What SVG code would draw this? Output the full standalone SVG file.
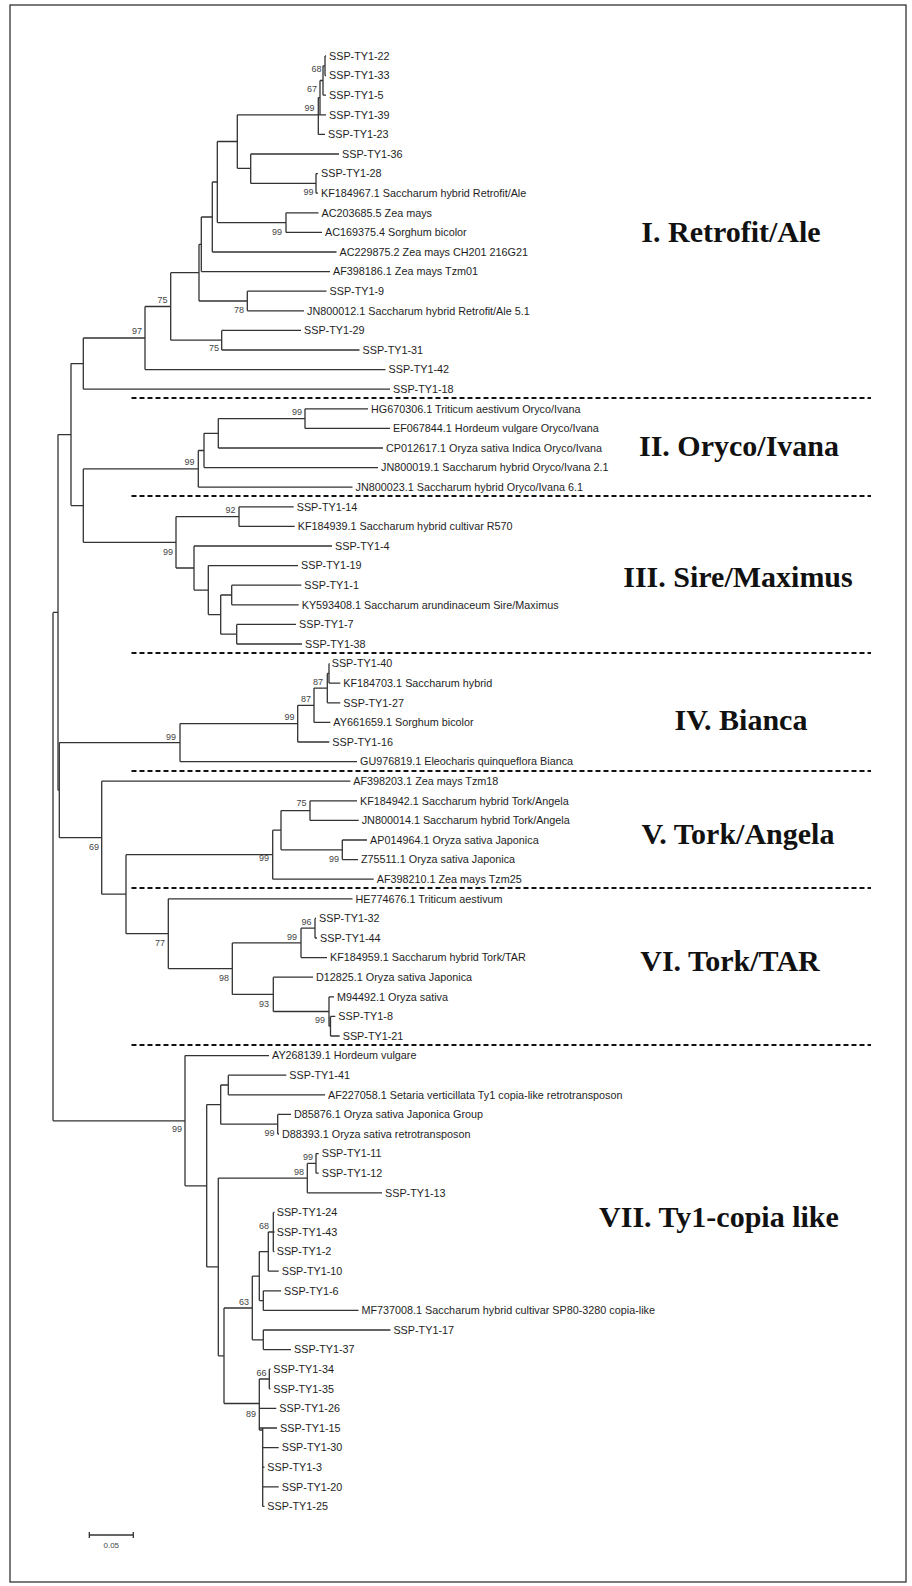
<svg xmlns="http://www.w3.org/2000/svg" width="912" height="1586" viewBox="0 0 912 1586">
<style>
.br{fill:none;stroke:#333;stroke-width:1.3}
.sep{fill:none;stroke:#111;stroke-width:2;stroke-dasharray:5 3}
.lf{font-family:"Liberation Sans",Arial,sans-serif;font-size:10.8px;fill:#1e1e1e}
.bs{font-family:"Liberation Sans",Arial,sans-serif;font-size:9px;fill:#444;text-anchor:end}
.cl{font-family:"Liberation Serif","Times New Roman",serif;font-size:30px;font-weight:bold;fill:#111;text-anchor:middle}
</style>
<rect x="0" y="0" width="912" height="1586" fill="#fff"/>
<rect x="10" y="5" width="896" height="1577" fill="none" stroke="#222" stroke-width="1.2"/>
<g id="separators">
<path class="sep" d="M131.5 398H871 M131.5 496H871 M131.5 653H871 M131.5 771H871 M131.5 888H871 M131.5 1045H871"/>
</g>
<g id="connectors">
<path class="br" d="M325 56V75.6 M325 56H326 M325 75.6H326 M323 65.8V95.2 M323 65.8H325 M323 95.2H326 M320 80.5V114.8 M320 80.5H323 M318.3 97.6V134.4 M318.3 97.6H320 M318.3 134.4H325"/>
<path class="br" d="M237.3 114.8V168.3 M237.3 114.8H326 M237.3 168.3H250.7 M250.7 154V183.4 M250.7 154H339 M250.7 183.4H316 M316 173.6V193.2 M316 173.6H318 M316 193.2H318"/>
<path class="br" d="M217.3 141.5V222.6 M217.3 141.5H237.3 M217.3 222.6H286 M286 212.8V232.4 M286 212.8H318.5 M286 232.4H322 M212.3 182V252 M212.3 182H217.3 M212.3 252H336.5 M201.3 217V271.6 M201.3 217H212.3 M201.3 271.6H330"/>
<path class="br" d="M199 244.3V301 M199 244.3H201.3 M199 301H247.3 M247.3 291.2V310.8 M247.3 291.2H326.5 M247.3 310.8H304 M170.7 272.7V340.2 M170.7 272.7H199 M170.7 340.2H221.7 M221.7 330.4V350 M221.7 330.4H301 M221.7 350H359.5"/>
<path class="br" d="M145 306.5V369.6 M145 306.5H170.7 M145 369.6H385.5 M83.3 338V389.2 M83.3 338H145 M83.3 389.2H390 M71 363.6V505.6 M71 363.6H83.3 M71 505.6H83.3"/>
<path class="br" d="M305 408.8V428.4 M305 408.8H368 M305 428.4H390 M218.3 418.6V448 M218.3 418.6H305 M218.3 448H383 M204 433.3V467.6 M204 433.3H218.3 M204 467.6H378 M198.3 450.5V487.2 M198.3 450.5H204 M198.3 487.2H352.5 M83.3 468.9V542.3 M83.3 468.9H198.3 M83.3 542.3H176"/>
<path class="br" d="M176 516.6V568 M176 516.6H239 M176 568H194 M239 506.8V526.4 M239 506.8H293.7 M239 526.4H294.7 M194 546V590.1 M194 546H332 M194 590.1H208.3 M208.3 565.6V614.6 M208.3 565.6H298 M208.3 614.6H220.7 M220.7 595V634.2 M220.7 595H231.7 M220.7 634.2H236.7 M231.7 585.2V604.8 M231.7 585.2H301.3 M231.7 604.8H298.7 M236.7 624.4V644 M236.7 624.4H296 M236.7 644H302"/>
<path class="br" d="M329 663.6V683.2 M329 663.6H329.5 M329 683.2H340.3 M327.3 673.4V702.8 M327.3 673.4H329 M327.3 702.8H340.3 M314 688.1V722.4 M314 688.1H327.3 M314 722.4H330.3 M297.7 705.3V742 M297.7 705.3H314 M297.7 742H329.3 M180 723.6V761.6 M180 723.6H297.7 M180 761.6H357 M59.3 742.6V837.7 M59.3 742.6H180 M59.3 837.7H101.7"/>
<path class="br" d="M101.7 781.2V894.2 M101.7 781.2H350.3 M101.7 894.2H126 M126 854.7V933.7 M126 854.7H272.7 M126 933.7H168.3 M272.7 830.2V879.2 M272.7 830.2H281 M272.7 879.2H373.7 M281 810.6V849.8 M281 810.6H310 M281 849.8H342.3 M310 800.8V820.4 M310 800.8H357 M310 820.4H358.7 M342.3 840V859.6 M342.3 840H367 M342.3 859.6H358"/>
<path class="br" d="M168.3 898.8V968.6 M168.3 898.8H352.5 M168.3 968.6H232.3 M232.3 942.9V994.4 M232.3 942.9H301 M232.3 994.4H273.3 M301 928.2V957.6 M301 928.2H315 M301 957.6H327 M315 918.4V938 M315 918.4H316 M315 938H317 M273.3 977.2V1011.5 M273.3 977.2H313 M273.3 1011.5H329 M329 996.8V1026.2 M329 996.8H334 M329 1026.2H330.5 M330.5 1016.4V1036 M330.5 1016.4H335.3 M330.5 1036H339.7"/>
<path class="br" d="M58 434.6V790.2 M58 434.6H71 M58 790.2H59.3 M53 612.4V1120.8 M53 612.4H58 M53 1120.8H185"/>
<path class="br" d="M185 1055.6V1185.8 M185 1055.6H269 M185 1185.8H206.7 M206.7 1104.6V1266.9 M206.7 1104.6H220.7 M206.7 1266.9H218.3 M220.7 1085V1124.2 M220.7 1085H228.3 M220.7 1124.2H277.7 M228.3 1075.2V1094.8 M228.3 1075.2H286.3 M228.3 1094.8H325 M277.7 1114.4V1134 M277.7 1114.4H291 M277.7 1134H279"/>
<path class="br" d="M218.3 1178.1V1355.8 M218.3 1178.1H307.3 M218.3 1355.8H224 M307.3 1163.4V1192.8 M307.3 1163.4H316 M307.3 1192.8H382 M316 1153.6V1173.2 M316 1153.6H318.7 M316 1173.2H318.7"/>
<path class="br" d="M224 1308V1403.5 M224 1308H252.3 M224 1403.5H259.3 M252.3 1276.1V1339.8 M252.3 1276.1H259.3 M252.3 1339.8H263.3 M259.3 1251.6V1300.6 M259.3 1251.6H268.3 M259.3 1300.6H263.3 M268.3 1232V1271.2 M268.3 1232H273.3 M268.3 1271.2H278.7 M273.3 1212.4V1251.6 M273.3 1212.4H274.5 M273.3 1232H274.5 M273.3 1251.6H274.5 M263.3 1290.8V1310.4 M263.3 1290.8H281 M263.3 1310.4H358.5 M263.3 1330V1349.6 M263.3 1330H390.4 M263.3 1349.6H291"/>
<path class="br" d="M259.3 1379V1430 M259.3 1379H269.3 M259.3 1408.4H276.3 M259.3 1428H277 M259.3 1430H262.7 M269.3 1369.2V1388.8 M269.3 1369.2H270.5 M269.3 1388.8H270.5 M262.7 1428V1506.4 M262.7 1447.6H278.7 M262.7 1467.2H264.5 M262.7 1486.8H278.7 M262.7 1506.4H264.5"/>
</g>
<g id="bootstrap">
<text class="bs" x="321.5" y="71.7">68</text>
<text class="bs" x="317" y="91.7">67</text>
<text class="bs" x="314.5" y="110.7">99</text>
<text class="bs" x="313.5" y="195">99</text>
<text class="bs" x="282" y="234.7">99</text>
<text class="bs" x="244" y="313">78</text>
<text class="bs" x="167.5" y="303">75</text>
<text class="bs" x="219" y="351.3">75</text>
<text class="bs" x="142" y="334">97</text>
<text class="bs" x="302" y="414.7">99</text>
<text class="bs" x="194.5" y="465.3">99</text>
<text class="bs" x="235.5" y="513">92</text>
<text class="bs" x="173" y="554.7">99</text>
<text class="bs" x="323" y="684.7">87</text>
<text class="bs" x="311" y="702">87</text>
<text class="bs" x="294.5" y="719.7">99</text>
<text class="bs" x="176" y="739.7">99</text>
<text class="bs" x="306.5" y="806.3">75</text>
<text class="bs" x="339" y="862.3">99</text>
<text class="bs" x="269" y="860.7">99</text>
<text class="bs" x="99" y="849.7">69</text>
<text class="bs" x="311.5" y="925">96</text>
<text class="bs" x="297" y="939.7">99</text>
<text class="bs" x="165" y="945.7">77</text>
<text class="bs" x="229" y="981.3">98</text>
<text class="bs" x="269" y="1007.3">93</text>
<text class="bs" x="325" y="1023">99</text>
<text class="bs" x="182" y="1132.3">99</text>
<text class="bs" x="274.5" y="1136.3">99</text>
<text class="bs" x="313" y="1159.7">99</text>
<text class="bs" x="304" y="1174.7">98</text>
<text class="bs" x="269" y="1229">68</text>
<text class="bs" x="249" y="1304.7">63</text>
<text class="bs" x="266.5" y="1376.3">66</text>
<text class="bs" x="256" y="1417">89</text>
</g>
<g id="leaves">
<g id="n0"><text class="lf" x="329" y="59.8">SSP-TY1-22</text></g>
<g id="n1"><text class="lf" x="329" y="79.4">SSP-TY1-33</text></g>
<g id="n2"><text class="lf" x="329" y="99">SSP-TY1-5</text></g>
<g id="n3"><text class="lf" x="329" y="118.6">SSP-TY1-39</text></g>
<g id="n4"><text class="lf" x="328" y="138.2">SSP-TY1-23</text></g>
<g id="n5"><text class="lf" x="342" y="157.8">SSP-TY1-36</text></g>
<g id="n6"><text class="lf" x="321" y="177.4">SSP-TY1-28</text></g>
<g id="n7"><text class="lf" x="321" y="197">KF184967.1 Saccharum hybrid Retrofit/Ale</text></g>
<g id="n8"><text class="lf" x="321.5" y="216.6">AC203685.5 Zea mays</text></g>
<g id="n9"><text class="lf" x="325" y="236.2">AC169375.4 Sorghum bicolor</text></g>
<g id="n10"><text class="lf" x="339.5" y="255.8">AC229875.2 Zea mays CH201 216G21</text></g>
<g id="n11"><text class="lf" x="333" y="275.4">AF398186.1 Zea mays Tzm01</text></g>
<g id="n12"><text class="lf" x="329.5" y="295">SSP-TY1-9</text></g>
<g id="n13"><text class="lf" x="307" y="314.6">JN800012.1 Saccharum hybrid Retrofit/Ale 5.1</text></g>
<g id="n14"><text class="lf" x="304" y="334.2">SSP-TY1-29</text></g>
<g id="n15"><text class="lf" x="362.5" y="353.8">SSP-TY1-31</text></g>
<g id="n16"><text class="lf" x="388.5" y="373.4">SSP-TY1-42</text></g>
<g id="n17"><text class="lf" x="393" y="393">SSP-TY1-18</text></g>
<g id="n18"><text class="lf" x="371" y="412.6">HG670306.1 Triticum aestivum Oryco/Ivana</text></g>
<g id="n19"><text class="lf" x="393" y="432.2">EF067844.1 Hordeum vulgare Oryco/Ivana</text></g>
<g id="n20"><text class="lf" x="386" y="451.8">CP012617.1 Oryza sativa Indica Oryco/Ivana</text></g>
<g id="n21"><text class="lf" x="381" y="471.4">JN800019.1 Saccharum hybrid Oryco/Ivana 2.1</text></g>
<g id="n22"><text class="lf" x="355.5" y="491">JN800023.1 Saccharum hybrid Oryco/Ivana 6.1</text></g>
<g id="n23"><text class="lf" x="296.7" y="510.6">SSP-TY1-14</text></g>
<g id="n24"><text class="lf" x="297.7" y="530.2">KF184939.1 Saccharum hybrid cultivar R570</text></g>
<g id="n25"><text class="lf" x="335" y="549.8">SSP-TY1-4</text></g>
<g id="n26"><text class="lf" x="301" y="569.4">SSP-TY1-19</text></g>
<g id="n27"><text class="lf" x="304.3" y="589">SSP-TY1-1</text></g>
<g id="n28"><text class="lf" x="301.7" y="608.6">KY593408.1 Saccharum arundinaceum Sire/Maximus</text></g>
<g id="n29"><text class="lf" x="299" y="628.2">SSP-TY1-7</text></g>
<g id="n30"><text class="lf" x="305" y="647.8">SSP-TY1-38</text></g>
<g id="n31"><text class="lf" x="331.7" y="667.4">SSP-TY1-40</text></g>
<g id="n32"><text class="lf" x="343.3" y="687">KF184703.1 Saccharum hybrid</text></g>
<g id="n33"><text class="lf" x="343.3" y="706.6">SSP-TY1-27</text></g>
<g id="n34"><text class="lf" x="333.3" y="726.2">AY661659.1 Sorghum bicolor</text></g>
<g id="n35"><text class="lf" x="332.3" y="745.8">SSP-TY1-16</text></g>
<g id="n36"><text class="lf" x="360" y="765.4">GU976819.1 Eleocharis quinqueflora Bianca</text></g>
<g id="n37"><text class="lf" x="353.3" y="785">AF398203.1 Zea mays Tzm18</text></g>
<g id="n38"><text class="lf" x="360" y="804.6">KF184942.1 Saccharum hybrid Tork/Angela</text></g>
<g id="n39"><text class="lf" x="361.7" y="824.2">JN800014.1 Saccharum hybrid Tork/Angela</text></g>
<g id="n40"><text class="lf" x="370" y="843.8">AP014964.1 Oryza sativa Japonica</text></g>
<g id="n41"><text class="lf" x="361" y="863.4">Z75511.1 Oryza sativa Japonica</text></g>
<g id="n42"><text class="lf" x="376.7" y="883">AF398210.1 Zea mays Tzm25</text></g>
<g id="n43"><text class="lf" x="355.5" y="902.6">HE774676.1 Triticum aestivum</text></g>
<g id="n44"><text class="lf" x="319" y="922.2">SSP-TY1-32</text></g>
<g id="n45"><text class="lf" x="320" y="941.8">SSP-TY1-44</text></g>
<g id="n46"><text class="lf" x="330" y="961.4">KF184959.1 Saccharum hybrid Tork/TAR</text></g>
<g id="n47"><text class="lf" x="316" y="981">D12825.1 Oryza sativa Japonica</text></g>
<g id="n48"><text class="lf" x="337" y="1000.6">M94492.1 Oryza sativa</text></g>
<g id="n49"><text class="lf" x="338.3" y="1020.2">SSP-TY1-8</text></g>
<g id="n50"><text class="lf" x="342.7" y="1039.8">SSP-TY1-21</text></g>
<g id="n51"><text class="lf" x="272" y="1059.4">AY268139.1 Hordeum vulgare</text></g>
<g id="n52"><text class="lf" x="289.3" y="1079">SSP-TY1-41</text></g>
<g id="n53"><text class="lf" x="328" y="1098.6">AF227058.1 Setaria verticillata Ty1 copia-like retrotransposon</text></g>
<g id="n54"><text class="lf" x="294" y="1118.2">D85876.1 Oryza sativa Japonica Group</text></g>
<g id="n55"><text class="lf" x="282" y="1137.8">D88393.1 Oryza sativa retrotransposon</text></g>
<g id="n56"><text class="lf" x="321.7" y="1157.4">SSP-TY1-11</text></g>
<g id="n57"><text class="lf" x="321.7" y="1177">SSP-TY1-12</text></g>
<g id="n58"><text class="lf" x="385" y="1196.6">SSP-TY1-13</text></g>
<g id="n59"><text class="lf" x="276.7" y="1216.2">SSP-TY1-24</text></g>
<g id="n60"><text class="lf" x="276.7" y="1235.8">SSP-TY1-43</text></g>
<g id="n61"><text class="lf" x="276.7" y="1255.4">SSP-TY1-2</text></g>
<g id="n62"><text class="lf" x="281.7" y="1275">SSP-TY1-10</text></g>
<g id="n63"><text class="lf" x="284" y="1294.6">SSP-TY1-6</text></g>
<g id="n64"><text class="lf" x="361.5" y="1314.2">MF737008.1 Saccharum hybrid cultivar SP80-3280 copia-like</text></g>
<g id="n65"><text class="lf" x="393.4" y="1333.8">SSP-TY1-17</text></g>
<g id="n66"><text class="lf" x="294" y="1353.4">SSP-TY1-37</text></g>
<g id="n67"><text class="lf" x="273.3" y="1373">SSP-TY1-34</text></g>
<g id="n68"><text class="lf" x="273.3" y="1392.6">SSP-TY1-35</text></g>
<g id="n69"><text class="lf" x="279.3" y="1412.2">SSP-TY1-26</text></g>
<g id="n70"><text class="lf" x="280" y="1431.8">SSP-TY1-15</text></g>
<g id="n71"><text class="lf" x="281.7" y="1451.4">SSP-TY1-30</text></g>
<g id="n72"><text class="lf" x="267.3" y="1471">SSP-TY1-3</text></g>
<g id="n73"><text class="lf" x="281.7" y="1490.6">SSP-TY1-20</text></g>
<g id="n74"><text class="lf" x="267.3" y="1510.2">SSP-TY1-25</text></g>
</g>
<g id="clades">
<text class="cl" x="731" y="241.8">I. Retrofit/Ale</text>
<text class="cl" x="739" y="455.8">II. Oryco/Ivana</text>
<text class="cl" x="738" y="586.8">III. Sire/Maximus</text>
<text class="cl" x="741" y="729.8">IV. Bianca</text>
<text class="cl" x="738" y="843.8">V. Tork/Angela</text>
<text class="cl" x="730" y="970.8">VI. Tork/TAR</text>
<text class="cl" x="719" y="1226.8">VII. Ty1-copia like</text>
</g>
<g id="scale">
<path class="br" d="M89.3 1535H133.3 M89.3 1532V1538 M133.3 1532V1538"/>
<text x="111.3" y="1547.5" font-family="Liberation Sans, Arial, sans-serif" font-size="8px" fill="#444" text-anchor="middle">0.05</text>
</g>
</svg>
